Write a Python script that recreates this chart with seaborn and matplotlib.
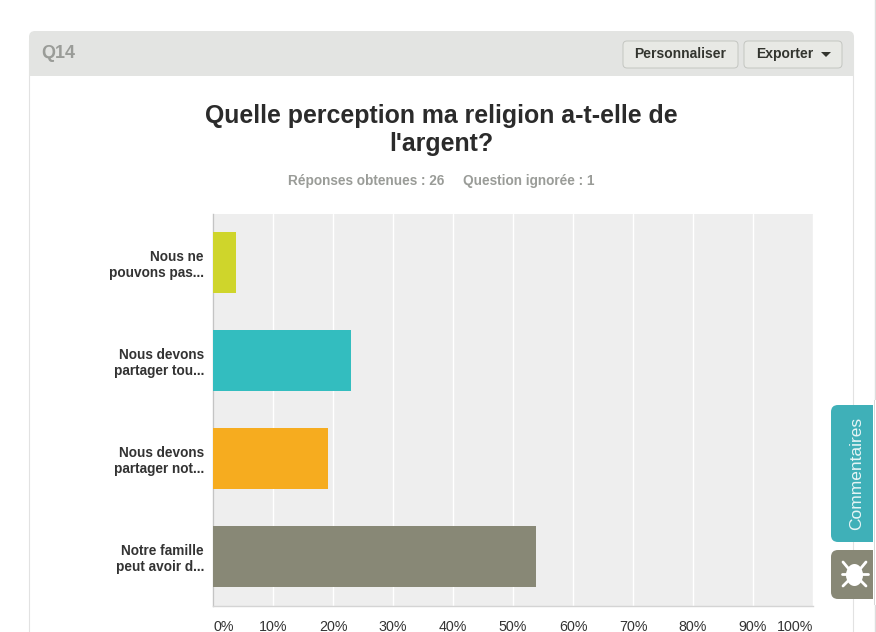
import matplotlib
matplotlib.use("Agg")
import matplotlib.pyplot as plt
from matplotlib.patches import FancyBboxPatch, Rectangle, Ellipse, Polygon
import pandas as pd
import seaborn as sns

categories = ["Nous ne\npouvons pas...", "Nous devons\npartager tou...", "Nous devons\npartager not...", "Notre famille\npeut avoir d..."]
values = [3.85, 23.08, 19.23, 53.85]
colors = ["#cfd52b", "#33bdbf", "#f6ac1f", "#888876"]
ticks = list(range(0, 101, 10))
tick_labels = [f"{t}%" for t in ticks]

W, H = 876, 632
sns.set_theme(style="white")
plt.rcParams["font.family"] = ["Liberation Sans", "DejaVu Sans"]

fig = plt.figure(figsize=(W / 100, H / 100), dpi=100, facecolor="white")

# page chrome, in pixel coordinates
bg = fig.add_axes([0, 0, 1, 1], zorder=0)
bg.set_xlim(0, W); bg.set_ylim(H, 0); bg.axis("off")

def round_box(x0, y0, x1, y1, r, fc, ec="none", lw=0, z=1):
    bg.add_patch(FancyBboxPatch((x0 + r, y0 + r), x1 - x0 - 2 * r, y1 - y0 - 2 * r,
                                boxstyle=f"round,pad={r},rounding_size={r}",
                                fc=fc, ec=ec, lw=lw, zorder=z, mutation_aspect=1))

bg.add_patch(Rectangle((29, 40), 824, 600, fc="white", ec="#e2e2e2", lw=0.8, zorder=1))
round_box(29, 31, 854, 60, 6, "#e3e4e2", z=2)
bg.add_patch(Rectangle((29, 50), 825, 26, fc="#e3e4e2", ec="none", zorder=2))
bg.plot([874.5, 874.5], [0, H], color="#d8d8d8", lw=1, zorder=1)
bg.plot([875.5, 875.5], [0, H], color="#f2f2f2", lw=1, zorder=1)
bg.text(41, 58, "Q14", fontsize=13, fontweight="bold", color="#9a9c98", va="baseline", ha="left", zorder=3)

for x0, x1 in [(623, 738), (744, 842)]:
    round_box(x0, 41, x1, 68, 4, "#e8e9e5", ec="#c4c6c1", lw=0.7, z=3)
bg.text(680.5, 58, "Personnaliser", fontsize=10, fontweight="bold", color="#33352f", ha="center", va="baseline", zorder=4)
bg.text(785, 58, "Exporter", fontsize=10, fontweight="bold", color="#33352f", ha="center", va="baseline", zorder=4)
bg.add_patch(Polygon([(821, 52), (831, 52), (826, 57)], fc="#33352f", ec="none", zorder=4))

bg.text(441.5, 115.5, "Quelle perception ma religion a-t-elle de", fontsize=17.95, fontweight="bold",
        color="#2b2b2b", ha="center", va="center", zorder=3)
bg.text(441.5, 143.5, "l'argent?", fontsize=17.95, fontweight="bold", color="#2b2b2b", ha="center", va="center", zorder=3)
bg.text(441.5, 180.5, "Réponses obtenues : 26     Question ignorée : 1", fontsize=9.8, fontweight="bold",
        color="#9a9c98", ha="center", va="center", zorder=3)

# side tabs
round_box(831, 405, 890, 542, 7, "#3fb0b8", z=3)
round_box(831, 550, 890, 599, 7, "#888876", z=3)
bg.add_patch(Rectangle((873, 400), 3, 205, fc="white", ec="none", zorder=4))
bg.add_patch(Rectangle((874, 400), 1, 205, fc="#d8d8d8", ec="none", zorder=4))
bg.text(857, 473, "Commentaires", fontsize=12.5, color="#e6f5f6", rotation=90, ha="center", va="center", zorder=5)
bg.add_patch(Ellipse((854.5, 575), 17, 22, fc="white", ec="none", zorder=5))
for (xa, ya, xb, yb) in [(842, 574, 868, 574), (843, 562, 848, 568), (866, 562, 861, 568),
                         (843, 586, 848, 581), (866, 586, 861, 581)]:
    bg.plot([xa, xb], [ya, yb], color="white", lw=2, zorder=5, solid_capstyle="round")

# chart
ax = fig.add_axes([213 / W, 1 - 605.5 / H, 600 / W, 392 / H], zorder=2)
ax.set_facecolor("#eeeeee")
df = pd.DataFrame({"cat": categories, "val": values})
sns.barplot(data=df, x="val", y="cat", hue="cat", palette=colors, legend=False,
            width=0.625, saturation=1, linewidth=0, ax=ax, zorder=3)
ax.set_xlim(0, 100)
ax.set_xlabel(""); ax.set_ylabel("")
ax.set_xticks(ticks)
ax.set_xticklabels(tick_labels, fontsize=10.3, color="#333333")
ax.xaxis.grid(True, color="white", lw=1.0, zorder=1)
ax.yaxis.grid(False)
ax.set_axisbelow(True)
ax.tick_params(axis="x", length=0, pad=10.5)
ax.tick_params(axis="y", length=0, pad=6.5)
for lab in ax.get_yticklabels():
    lab.set_fontsize(9.8); lab.set_fontweight("bold"); lab.set_color("#333333"); lab.set_linespacing(1.15)
    lab.set_ha("right")
labs = ax.get_xticklabels()
labs[0].set_ha("left"); labs[-1].set_ha("right")
for s in ["top", "right"]:
    ax.spines[s].set_visible(False)
ax.spines["left"].set_color("#c4c4c4"); ax.spines["bottom"].set_color("#d4d4d4")
ax.spines["left"].set_linewidth(1); ax.spines["bottom"].set_linewidth(1)

fig.savefig("out.png", dpi=100)
